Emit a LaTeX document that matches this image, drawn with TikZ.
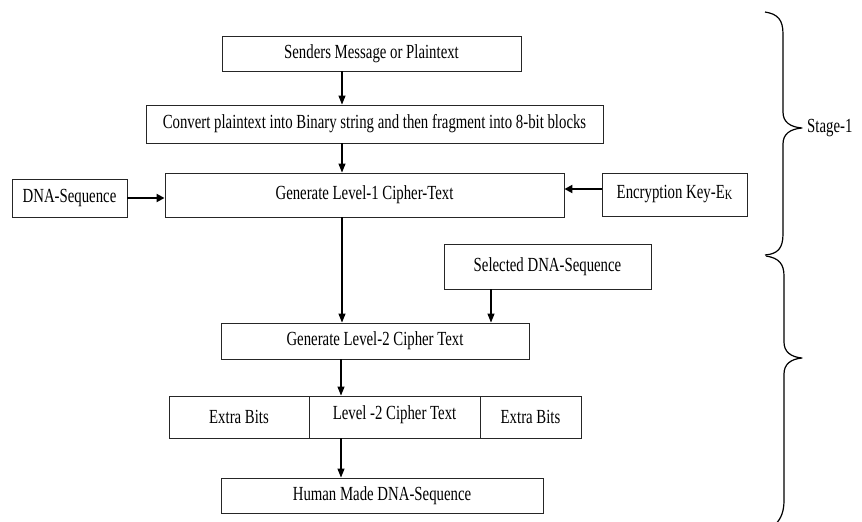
\documentclass[tikz,border=0pt]{standalone}
\usepackage{fontspec}
\setmainfont[FakeStretch=0.74]{Liberation Serif}
\usetikzlibrary{arrows.meta}
\begin{document}
\begin{tikzpicture}[x=1pt,y=-1pt,
  box/.style={draw=black!85,line width=0.9pt,inner sep=0pt,font=\fontsize{20}{22}\selectfont},
  arr/.style={line width=1.1pt,-{Triangle[length=9pt,width=7pt]}},
  thickarr/.style={line width=2pt,-{Triangle[length=8pt,width=8pt]}},
  bracepath/.style={line width=1.2pt,line join=round}]
\useasboundingbox (0,0) rectangle (862,522);
\fill[white] (0,0) rectangle (862,522);
\coordinate (ax) at (342,0);
\coordinate (ey) at (0,189);
\coordinate (sx) at (491,0);
\coordinate (bx) at (341,0);
\node[box,minimum width=299pt,minimum height=35pt] (b1) at (371.5,53.5) {Senders Message or Plaintext};
\node[box,minimum width=457pt,minimum height=38pt] (b2) at (374.5,124) {Convert plaintext into Binary string and then fragment into 8-bit blocks};
\node[box,minimum width=399pt,minimum height=44pt] (b3) at (364.5,195) {Generate Level-1 Cipher-Text};
\node[box,minimum width=115pt,minimum height=38pt] (dna) at (69.5,198) {DNA-Sequence};
\node[box,minimum width=145pt,minimum height=43pt] (enc) at (674.5,194.5) {Encryption Key-E\raisebox{-0.5pt}{\fontsize{14}{14}\selectfont K}};
\node[box,minimum width=207pt,minimum height=45pt] (sel) at (547.5,266.5) {Selected DNA-Sequence};
\node[box,minimum width=308pt,minimum height=36pt] (b4) at (375,341) {Generate Level-2 Cipher Text};
\node[box,minimum width=140pt,minimum height=42pt] (e1) at (239,417) {Extra Bits};
\node[box,minimum width=171pt,minimum height=42pt] (e2) at (394.5,417) {\raisebox{8pt}{Level -2 Cipher Text}};
\node[box,minimum width=101pt,minimum height=42pt] (e3) at (530.5,417) {Extra Bits};
\node[box,minimum width=322pt,minimum height=35pt] (b5) at (382,495.5) {Human Made DNA-Sequence};
\node[font=\fontsize{20}{22}\selectfont,anchor=west,inner sep=0pt] (st) at (807,128) {Stage-1};
\draw[arr] (b1.south -| ax) -- (b2.north -| ax);
\draw[arr] (b2.south -| ax) -- (b3.north -| ax);
\draw[thickarr] (dna.east) -- (dna.east -| b3.west);
\draw[thickarr] (enc.west |- ey) -- (b3.east |- ey);
\draw[arr] (b3.south -| ax) -- (b4.north -| ax);
\draw[arr] (sel.south -| sx) -- (b4.north -| sx);
\draw[arr] (b4.south -| bx) -- (e2.north -| bx);
\draw[arr] (e2.south -| bx) -- (b5.north -| bx);
% braces
\draw[bracepath] (765,12) .. controls (778,14) and (783,20) .. (783,34) -- (783,112)
  .. controls (783,122) and (790,127) .. (802,128)
  .. controls (790,129) and (783,134) .. (783,144) -- (783,234)
  .. controls (783,248) and (778,254) .. (765,255);
\draw[bracepath] (766,256) .. controls (779,258) and (784,264) .. (784,276) -- (784,342)
  .. controls (784,352) and (791,357) .. (802,358)
  .. controls (791,359) and (784,364) .. (784,374) -- (784,500)
  .. controls (784,512) and (781,518) .. (776,524);
\end{tikzpicture}
\end{document}
